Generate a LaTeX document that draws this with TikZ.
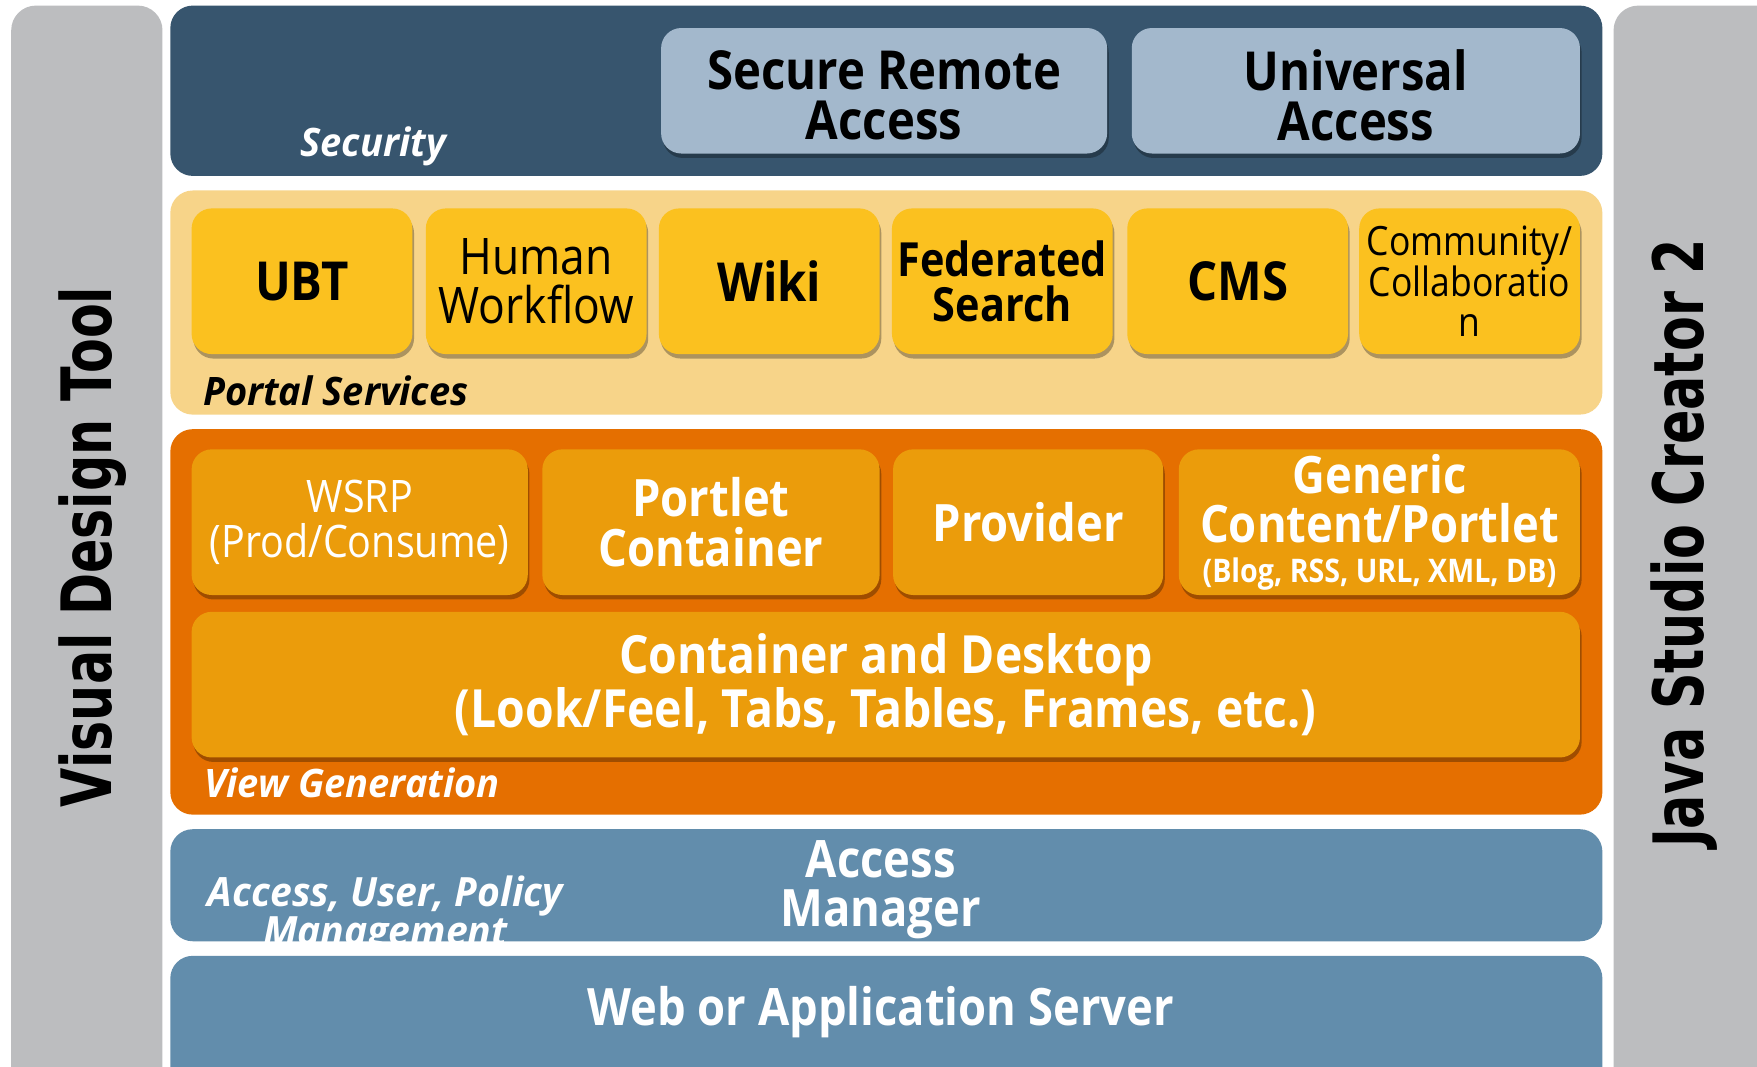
\documentclass[tikz,border=0pt]{standalone}
\usepackage{fontspec}
\setmainfont{Open Sans}[FakeStretch=0.88]
\newfontfamily\labelfont{Open Sans}[FakeStretch=0.97]
\newfontfamily\sidefont{DejaVu Sans}[FakeStretch=0.73]
\usetikzlibrary{shadows}
\definecolor{graybar}{HTML}{BCBDBF}
\definecolor{secblue}{HTML}{37556E}
\definecolor{secbox}{HTML}{A3B8CC}
\definecolor{portalbg}{HTML}{F7D489}
\definecolor{ybox}{HTML}{FBC11F}
\definecolor{orbg}{HTML}{E56F00}
\definecolor{orbox}{HTML}{EB9C0B}
\definecolor{mblue}{HTML}{628DAC}
\newcommand\myfs[2]{\fontsize{#1}{#2}\selectfont}
\begin{document}
\begin{tikzpicture}[x=1pt,y=-1pt,
  band/.style={rectangle, rounded corners=20pt, inner sep=0pt, draw=none},
  box/.style={rectangle, rounded corners=18pt, inner sep=0pt, align=center,
    drop shadow={shadow xshift=1.5pt, shadow yshift=-4pt, opacity=0.3, fill=black}},
  bigbold/.style={font=\myfs{46}{44}\bfseries},
  lbl/.style={font=\labelfont\myfs{35}{33}\bfseries\itshape, inner sep=0pt, anchor=base west},
  side/.style={font=\sidefont\myfs{62}{62}\bfseries, rotate=90, inner sep=0pt}
]
\useasboundingbox (0,0) rectangle (1568,952);
\clip (0,0) rectangle (1568,952);
\fill[white] (0,0) rectangle (1568,952);

% side bars
\node[band, rounded corners=22pt, fill=graybar, minimum width=135pt, minimum height=1000pt] (leftbar) at (77.5,505) {};
\node[band, rounded corners=22pt, fill=graybar, minimum width=150pt, minimum height=1000pt] (rightbar) at (1515,505) {};
\node[side] (vdt) at (83,488) {Visual Design Tool};
\node[side] (jsc) at (1503,485) {Java Studio Creator 2};

% Security band
\node[band, fill=secblue, minimum width=1278pt, minimum height=152pt] (security) at (791,81) {};
\node[box, fill=secbox, minimum width=398pt, minimum height=112pt] (sra) at (789,81) {};
\node[inner sep=0pt, align=center, font=\myfs{48}{45}\bfseries] (sratext) at (789,85) {Secure Remote\\Access};
\node[box, fill=secbox, minimum width=400pt, minimum height=112pt] (ua) at (1210,81) {};
\node[inner sep=0pt, align=center, font=\myfs{48}{45}\bfseries] (uatext) at (1210,85) {Universal\\Access};
\node[lbl, text=white] (seclbl) at (268,140) {Security};

% Portal services band
\node[band, fill=portalbg, minimum width=1278pt, minimum height=200pt] (portal) at (791,270) {};
\node[box, fill=ybox, minimum width=197pt, minimum height=130pt, font=\myfs{48}{44}\bfseries] (ubt) at (269.5,251) {UBT};
\node[box, fill=ybox, minimum width=197pt, minimum height=130pt, font=\myfs{45}{43}] (hw) at (478.5,251) {Human\\Workflow};
\node[box, fill=ybox, minimum width=197pt, minimum height=130pt, font=\myfs{48}{44}\bfseries] (wiki) at (686.5,251) {Wiki};
\node[box, fill=ybox, minimum width=197pt, minimum height=130pt, font=\myfs{42}{40}\bfseries] (fs) at (894.5,251) {Federated\\Search};
\node[box, fill=ybox, minimum width=197pt, minimum height=130pt, font=\myfs{48}{44}\bfseries] (cms) at (1104.5,251) {CMS};
\node[box, fill=ybox, minimum width=197pt, minimum height=130pt, font=\myfs{36}{36}] (comm) at (1311.5,251) {Community/\\Collaboratio\\n};
\node[lbl, text=black] (portallbl) at (181,362) {Portal Services};

% View generation band
\node[band, fill=orbg, minimum width=1278pt, minimum height=344pt] (view) at (791,555) {};
\node[box, fill=orbox, minimum width=300pt, minimum height=130pt, text=white, font=\myfs{40}{40}] (wsrp) at (321,466) {WSRP\\(Prod/Consume)};
\node[box, fill=orbox, minimum width=301pt, minimum height=130pt, text=white, bigbold] (pc) at (634.5,466) {Portlet\\Container};
\node[box, fill=orbox, minimum width=241pt, minimum height=130pt, text=white, bigbold] (prov) at (917.5,466) {Provider};
\node[box, fill=orbox, minimum width=358pt, minimum height=130pt, text=white, bigbold] (gen) at (1231,466) {Generic\\Content/Portlet\\[-8pt]{\myfs{29}{30}(Blog, RSS, URL, XML, DB)}};
\node[box, fill=orbox, minimum width=1239pt, minimum height=130pt, text=white, font=\myfs{47}{45}\bfseries] (cd) at (790.5,611) {Container and Desktop\\(Look/Feel, Tabs, Tables, Frames, etc.)};
\node[lbl, text=white] (viewlbl) at (182,712) {View Generation};

% Access manager band
\node[band, fill=mblue, minimum width=1278pt, minimum height=100pt] (am) at (791,790) {};
\node[inner sep=0pt, text=white, bigbold, align=center] (amtext) at (786,794) {Access\\Manager};
\begin{scope}
\clip[rounded corners=20pt] (152,740) rectangle (1430,840);
\node[inner sep=0pt, text=white, font=\labelfont\myfs{36}{34}\bfseries\itshape, align=center] (aupm) at (344,817) {Access, User, Policy\\Management};
\end{scope}

% Web / application server band
\node[band, fill=mblue, minimum width=1278pt, minimum height=140pt] (was) at (791,923) {};
\node[inner sep=0pt, text=white, bigbold] (wastext) at (786,903) {Web or Application Server};
\end{tikzpicture}
\end{document}
